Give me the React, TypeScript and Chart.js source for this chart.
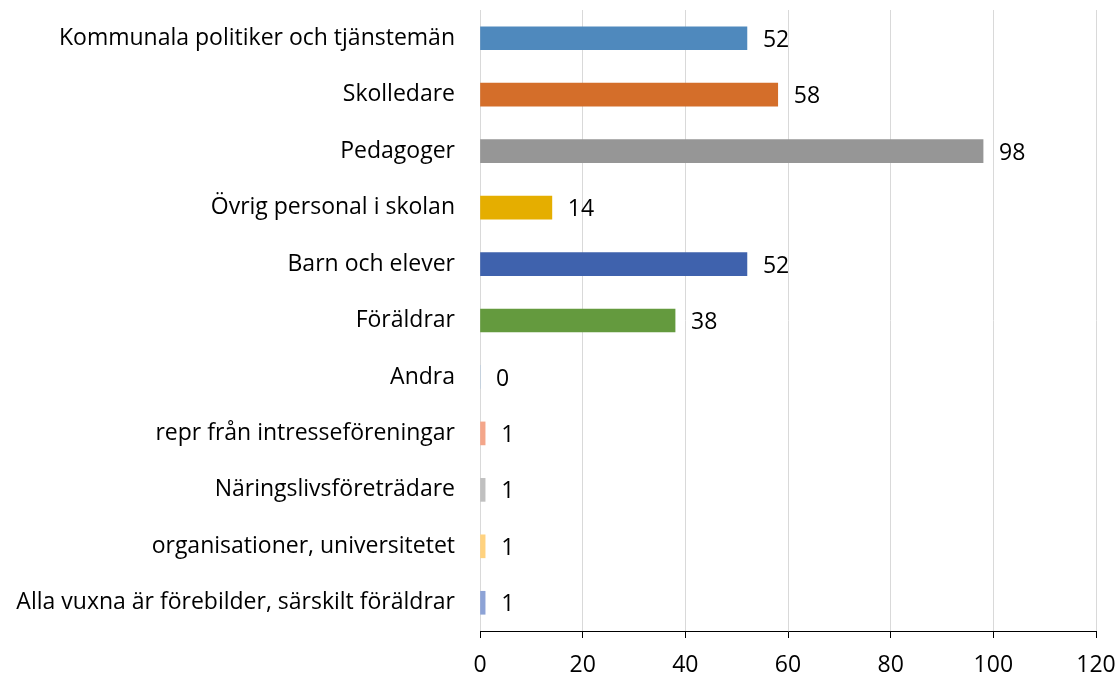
import React, { useEffect, useRef } from "react";
import { Chart, registerables } from "chart.js";

Chart.register(...registerables);

const categories = [
  "Kommunala politiker och tjänstemän",
  "Skolledare",
  "Pedagoger",
  "Övrig personal i skolan",
  "Barn och elever",
  "Föräldrar",
  "Andra",
  "repr från intresseföreningar",
  "Näringslivsföreträdare",
  "organisationer, universitetet",
  "Alla vuxna är förebilder, särskilt föräldrar",
];
const values = [52, 58, 98, 14, 52, 38, 0, 1, 1, 1, 1];
const barColors = [
  "#4F89BD",
  "#D46E2A",
  "#969696",
  "#E5AE00",
  "#3F62AD",
  "#649A3E",
  "#9DC3E6",
  "#F4A68A",
  "#C0C0C0",
  "#FFD27F",
  "#8DA3D6",
];
const xTicks = [0, 20, 40, 60, 80, 100, 120];

const FONT = "'Open Sans', sans-serif";
const FS = 23;

const valueLabels = {
  id: "valueLabels",
  afterDatasetsDraw(chart: any) {
    const ctx = chart.ctx;
    const meta = chart.getDatasetMeta(0);
    ctx.save();
    ctx.font = `${FS}px ${FONT}`;
    ctx.fillStyle = "#000000";
    ctx.textAlign = "left";
    ctx.textBaseline = "middle";
    meta.data.forEach((bar: any, i: number) => {
      ctx.fillText(String(values[i]), bar.x + 16, bar.y + 2);
    });
    ctx.restore();
  },
};

export default function App() {
  const ref = useRef<HTMLCanvasElement>(null);
  useEffect(() => {
    document.body.style.margin = "0";
    const chart = new Chart(ref.current!, {
      type: "bar",
      data: {
        labels: categories,
        datasets: [
          {
            data: values,
            backgroundColor: barColors,
            barThickness: 23,
          },
        ],
      },
      options: {
        indexAxis: "y",
        animation: false,
        responsive: false,
        maintainAspectRatio: false,
        layout: { padding: { top: 10, right: 24, left: 0, bottom: 0 } },
        plugins: { legend: { display: false }, tooltip: { enabled: false } },
        scales: {
          x: {
            min: 0,
            max: 120,
            afterBuildTicks(scale: any) {
              scale.ticks = xTicks.map((v) => ({ value: v }));
            },
            afterFit(scale: any) {
              scale.height = 44;
              scale.paddingLeft = 0;
              scale.paddingRight = 0;
            },
            grid: {
              color: "#D9D9D9",
              lineWidth: 1,
              tickLength: 7,
              tickColor: "#000000",
            },
            border: { color: "#000000", width: 1 },
            ticks: {
              color: "#000000",
              font: { family: FONT, size: FS },
              padding: 14,
            },
          },
          y: {
            afterFit(scale: any) {
              scale.width = 480;
              scale.paddingTop = 0;
              scale.paddingBottom = 0;
            },
            grid: { display: false, drawTicks: false },
            border: { display: false },
            ticks: {
              color: "#000000",
              font: { family: FONT, size: FS },
              padding: 25,
            },
          },
        },
      },
      plugins: [valueLabels],
    });
    return () => chart.destroy();
  }, []);
  return <canvas ref={ref} width={1120} height={675} style={{ display: "block" }} />;
}
